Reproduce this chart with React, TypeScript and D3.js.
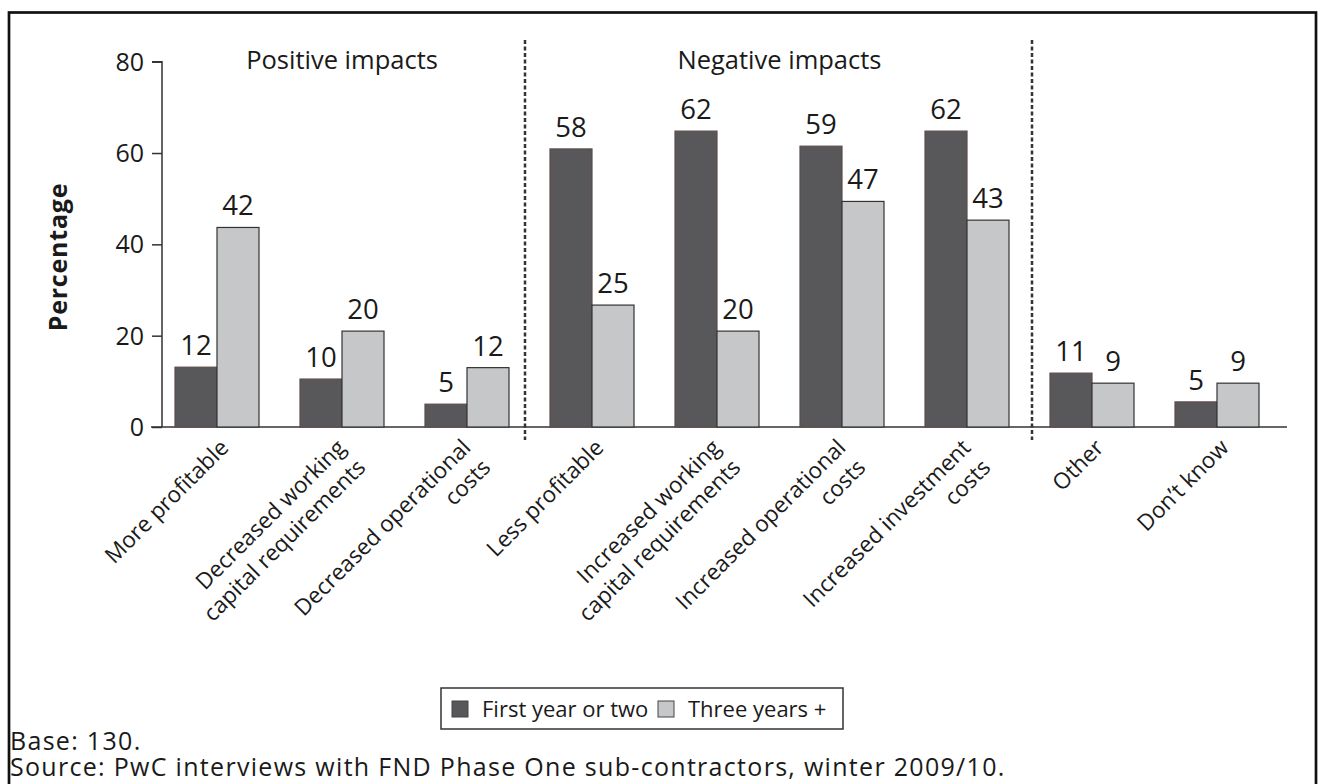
import React, { useEffect, useRef } from 'react';
import * as d3 from 'd3';

const categories = [
  'More profitable',
  'Decreased working\ncapital requirements',
  'Decreased operational\ncosts',
  'Less profitable',
  'Increased working\ncapital requirements',
  'Increased operational\ncosts',
  'Increased investment\ncosts',
  'Other',
  'Don’t know',
];
const firstYearValues = [13.1, 10.5, 5.0, 60.9, 64.8, 61.5, 64.8, 11.8, 5.5];
const threeYearValues = [43.7, 21.0, 13.0, 26.7, 21.0, 49.4, 45.3, 9.6, 9.6];
const firstYearLabels = ['12', '10', '5', '58', '62', '59', '62', '11', '5'];
const threeYearLabels = ['42', '20', '12', '25', '20', '47', '43', '9', '9'];
const seriesNames = ['First year or two', 'Three years +'];
const yTicks = [0, 20, 40, 60, 80];
const sectionNames = ['Positive impacts', 'Negative impacts'];
const sectionFirst = [0, 3];
const sectionLast = [2, 6];
const dividerAfter = [2, 6];
const baseNote = 'Base: 130.';
const sourceNote = 'Source: PwC interviews with FND Phase One sub-contractors, winter 2009/10.';

const FONT = "'Open Sans', 'Noto Sans', sans-serif";
const DARK = '#58585a';
const DARK_STROKE = '#5e4c4c';
const LIGHT = '#c6c7c9';
const LIGHT_STROKE = '#333333';
const INK = '#1a1a1a';
const DIVIDER_NUDGE = [-4.5, 2.5];

export default function App() {
  const ref = useRef<SVGSVGElement>(null);

  useEffect(() => {
    const svg = d3.select(ref.current);
    svg.selectAll('*').remove();

    // frame
    svg.append('rect')
      .attr('x', 9).attr('y', 12.5).attr('width', 1307).attr('height', 800)
      .attr('fill', 'white').attr('stroke', '#111').attr('stroke-width', 2.7);

    const idx = categories.map((_, i) => String(i));
    const x = d3.scaleBand<string>()
      .domain(idx)
      .range([154.5, 1279.5])
      .paddingInner(0.328)
      .paddingOuter(0.164);
    const xs = d3.scaleBand<string>()
      .domain(['a', 'b'])
      .range([0, x.bandwidth()]);
    const y = d3.scaleLinear().domain([0, 80]).range([427, 61.7]);

    const g = svg.append('g');

    // y axis
    const yAxis = d3.axisLeft(y).tickValues(yTicks).tickSize(10).tickPadding(8);
    const ya = g.append('g').attr('transform', 'translate(162,0)').call(yAxis);
    ya.select('.domain').attr('stroke', '#333').attr('stroke-width', 1.5)
      .attr('d', `M-10,${y(80)}H0V${y(0)}`);
    ya.selectAll('.tick line').attr('stroke', '#333').attr('stroke-width', 1.5);
    ya.selectAll('.tick text')
      .attr('font-family', FONT).attr('font-size', 25).attr('fill', INK)
      .attr('dy', '0.34em');

    // y label
    g.append('text')
      .attr('transform', `translate(67,257) rotate(-90)`)
      .attr('text-anchor', 'middle')
      .attr('font-family', FONT).attr('font-size', 25).attr('font-weight', 'bold')
      .attr('letter-spacing', 0.8)
      .attr('fill', INK)
      .text('Percentage');

    // x axis baseline
    g.append('line')
      .attr('x1', 151).attr('x2', 1287)
      .attr('y1', y(0)).attr('y2', y(0))
      .attr('stroke', '#333').attr('stroke-width', 1.5);

    // bars
    const series = [
      { key: 'a', values: firstYearValues, labels: firstYearLabels, fill: DARK, stroke: DARK_STROKE },
      { key: 'b', values: threeYearValues, labels: threeYearLabels, fill: LIGHT, stroke: LIGHT_STROKE },
    ];
    series.forEach((s) => {
      const sg = g.append('g');
      sg.selectAll('rect')
        .data(s.values)
        .join('rect')
        .attr('x', (_, i) => (x(String(i)) as number) + (xs(s.key) as number))
        .attr('y', (d) => y(d))
        .attr('width', xs.bandwidth())
        .attr('height', (d) => y(0) - y(d))
        .attr('fill', s.fill)
        .attr('stroke', s.stroke)
        .attr('stroke-width', 1.2);
      sg.selectAll('text')
        .data(s.values)
        .join('text')
        .attr('x', (_, i) => (x(String(i)) as number) + (xs(s.key) as number) + xs.bandwidth() / 2)
        .attr('y', (d) => y(d) - 12)
        .attr('text-anchor', 'middle')
        .attr('font-family', FONT).attr('font-size', 27.5).attr('fill', INK)
        .text((_, i) => s.labels[i]);
    });

    // dividers
    dividerAfter.forEach((i, k) => {
      const cx = ((x(String(i)) as number) + x.bandwidth() + (x(String(i + 1)) as number)) / 2 + DIVIDER_NUDGE[k];
      g.append('line')
        .attr('x1', cx).attr('x2', cx)
        .attr('y1', 40).attr('y2', 440)
        .attr('stroke', '#333').attr('stroke-width', 2.5)
        .attr('stroke-dasharray', '4,2.5');
    });

    // section titles
    sectionNames.forEach((name, k) => {
      const a = (x(String(sectionFirst[k])) as number) + x.bandwidth() / 2;
      const b = (x(String(sectionLast[k])) as number) + x.bandwidth() / 2;
      g.append('text')
        .attr('x', (a + b) / 2).attr('y', 69)
        .attr('text-anchor', 'middle')
        .attr('font-family', FONT).attr('font-size', 25.5).attr('fill', INK)
        .text(name);
    });

    // x labels
    categories.forEach((c, i) => {
      const cx = (x(String(i)) as number) + x.bandwidth() / 2;
      const lines = c.split('\n');
      const shift = lines.length > 1 ? 5 : 13;
      const t = g.append('text')
        .attr('transform', `translate(${cx + shift},${y(0) + 22}) rotate(-45)`)
        .attr('text-anchor', 'end')
        .attr('font-family', FONT).attr('font-size', 22.5).attr('fill', INK);
      lines.forEach((line, j) => {
        t.append('tspan').attr('x', 0).attr('dy', j === 0 ? 0 : 28).text(line);
      });
    });

    // legend
    const lg = g.append('g').attr('transform', 'translate(441,688)');
    lg.append('rect').attr('width', 402).attr('height', 41)
      .attr('fill', 'white').attr('stroke', '#333').attr('stroke-width', 1.5);
    const legendX = [11, 217];
    series.forEach((s, k) => {
      lg.append('rect')
        .attr('x', legendX[k]).attr('y', 13).attr('width', 16).attr('height', 16)
        .attr('fill', s.fill).attr('stroke', '#444').attr('stroke-width', 1);
      lg.append('text')
        .attr('x', legendX[k] + 30).attr('y', 29)
        .attr('font-family', FONT).attr('font-size', 22).attr('fill', INK)
        .text(seriesNames[k]);
    });

    // notes
    g.append('text').attr('x', 10).attr('y', 750)
      .attr('font-family', FONT).attr('font-size', 25).attr('letter-spacing', 1.3)
      .attr('fill', INK).text(baseNote);
    g.append('text').attr('x', 10).attr('y', 776)
      .attr('font-family', FONT).attr('font-size', 25).attr('letter-spacing', 1.3)
      .attr('fill', INK).text(sourceNote);
  }, []);

  return (
    <svg
      ref={ref}
      width={1319}
      height={784}
      style={{ position: 'absolute', left: 0, top: 0, display: 'block', background: 'white' }}
    />
  );
}
